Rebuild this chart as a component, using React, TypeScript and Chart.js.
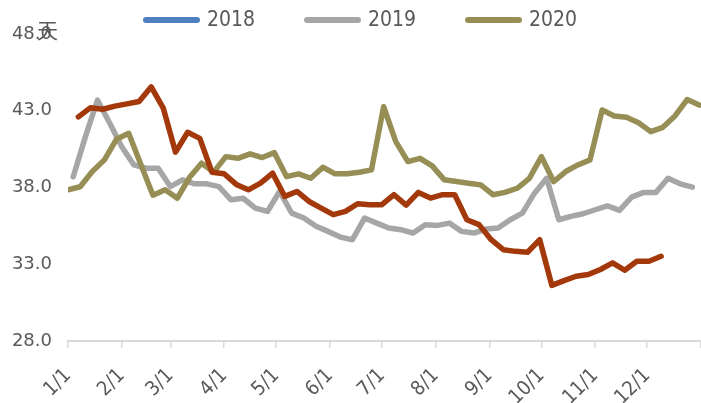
import React, { useEffect, useRef } from "react";
import { Chart, registerables } from "chart.js";

Chart.register(...registerables);

// x axis: day of year, ticks at the first day of each month
const MONTH_START_DAYS = [0, 31, 59, 90, 120, 151, 181, 212, 243, 273, 304, 334, 365];
const MONTH_LABELS = ["1/1", "2/1", "3/1", "4/1", "5/1", "6/1", "7/1", "8/1", "9/1", "10/1", "11/1", "12/1", ""];
const Y_TICKS = [28, 33, 38, 43, 48];
const UNIT_LABEL = "天";
const LEGEND_LABELS = ["2018", "2019", "2020"];

// 2018: no visible data
const DAYS_2018: number[] = [];
const VALUES_2018: number[] = [];

const DAYS_2019 = [3, 10, 17, 24, 31, 38, 45, 52, 59, 66, 73, 80, 87, 94, 101, 108, 115, 122, 129, 136, 143, 150, 157, 164, 171, 178, 185, 192, 199, 206, 213, 220, 227, 234, 241, 248, 255, 262, 269, 276, 283, 290, 297, 304, 311, 318, 325, 332, 339, 346, 353, 360];
const VALUES_2019 = [38.7, 41.3, 43.7, 42.2, 40.66, 39.47, 39.26, 39.26, 38.06, 38.5, 38.24, 38.24, 38.06, 37.2, 37.3, 36.66, 36.44, 37.74, 36.33, 36.01, 35.47, 35.14, 34.77, 34.6, 36.01, 35.68, 35.36, 35.25, 35.03, 35.58, 35.53, 35.68, 35.14, 35.03, 35.29, 35.36, 35.9, 36.33, 37.63, 38.6, 35.9, 36.12, 36.29, 36.55, 36.81, 36.51, 37.37, 37.68, 37.68, 38.6, 38.24, 38.02];

const DAYS_2020 = [0, 7, 14, 21, 28, 35, 42, 49, 56, 63, 70, 77, 84, 91, 98, 105, 112, 119, 126, 133, 140, 147, 154, 161, 168, 175, 182, 189, 196, 203, 210, 217, 224, 231, 238, 245, 252, 259, 266, 273, 280, 287, 294, 301, 308, 315, 322, 329, 336, 343, 350, 357, 364];
const VALUES_2020 = [37.85, 38.05, 39.04, 39.8, 41.15, 41.53, 39.5, 37.5, 37.85, 37.3, 38.65, 39.58, 39.0, 40.01, 39.9, 40.19, 39.95, 40.27, 38.71, 38.89, 38.6, 39.32, 38.89, 38.89, 38.99, 39.15, 43.26, 40.99, 39.69, 39.9, 39.41, 38.5, 38.39, 38.28, 38.17, 37.53, 37.68, 37.95, 38.6, 40.01, 38.39, 39.04, 39.47, 39.8, 43.05, 42.66, 42.57, 42.22, 41.64, 41.92, 42.66, 43.73, 43.37];

const DAYS_2021 = [6, 13, 20, 27, 34, 41, 48, 55, 62, 69, 76, 83, 90, 97, 104, 111, 118, 125, 132, 139, 146, 153, 160, 167, 174, 181, 188, 195, 202, 209, 216, 223, 230, 237, 244, 251, 258, 265, 272, 279, 286, 293, 300, 307, 314, 321, 328, 335, 342];
const VALUES_2021 = [42.6, 43.2, 43.1, 43.3, 43.45, 43.6, 44.56, 43.15, 40.3, 41.6, 41.2, 39.0, 38.9, 38.2, 37.85, 38.28, 38.93, 37.42, 37.74, 37.09, 36.66, 36.23, 36.44, 36.94, 36.88, 36.88, 37.53, 36.85, 37.68, 37.31, 37.53, 37.53, 35.9, 35.58, 34.6, 33.95, 33.84, 33.78, 34.6, 31.62, 31.93, 32.22, 32.33, 32.66, 33.09, 32.61, 33.19, 33.19, 33.52];

const COLOR_2018 = "#4F7FBE";
const COLOR_2019 = "#A6A6A6";
const COLOR_2020 = "#978E56";
const COLOR_2021 = "#A3380B";
const TEXT_COLOR = "#595959";
const NARROW_FONT = '"Liberation Sans Narrow", "DejaVu Sans Condensed", sans-serif';

const toPoints = (days: number[], vals: number[]) => days.map((d, i) => ({ x: d, y: vals[i] }));

const legendPlugin = {
  id: "customLegend",
  afterDraw(chart: any) {
    const ctx = chart.ctx as CanvasRenderingContext2D;
    ctx.save();
    ctx.font = `21px ${NARROW_FONT}`;
    ctx.textBaseline = "middle";
    ctx.textAlign = "left";
    let x = 143;
    const y = 20;
    chart.data.datasets.forEach((ds: any) => {
      if (!LEGEND_LABELS.includes(ds.label)) return;
      ctx.strokeStyle = ds.borderColor;
      ctx.lineWidth = 6;
      ctx.lineCap = "round";
      ctx.beginPath();
      ctx.moveTo(x + 3, y);
      ctx.lineTo(x + 54, y);
      ctx.stroke();
      ctx.fillStyle = TEXT_COLOR;
      ctx.fillText(ds.label, x + 64, y + 1);
      x += 161;
    });
    // unit label
    ctx.font = '21px "Noto Sans CJK SC", sans-serif';
    ctx.fillStyle = TEXT_COLOR;
    ctx.fillText(UNIT_LABEL, 37, 30);
    ctx.restore();
  },
};

export default function App() {
  const ref = useRef<HTMLCanvasElement | null>(null);
  useEffect(() => {
    if (!ref.current) return;
    const common = {
      pointRadius: 0,
      borderWidth: 5.5,
      tension: 0,
      borderJoinStyle: "round" as const,
      borderCapStyle: "round" as const,
      fill: false,
    };
    const chart = new Chart(ref.current, {
      type: "line",
      data: {
        datasets: [
          { label: "2018", data: toPoints(DAYS_2018, VALUES_2018), borderColor: COLOR_2018, backgroundColor: COLOR_2018, order: 3, ...common },
          { label: "2019", data: toPoints(DAYS_2019, VALUES_2019), borderColor: COLOR_2019, backgroundColor: COLOR_2019, order: 2, ...common },
          { label: "2020", data: toPoints(DAYS_2020, VALUES_2020), borderColor: COLOR_2020, backgroundColor: COLOR_2020, order: 1, ...common },
          { label: "2021", data: toPoints(DAYS_2021, VALUES_2021), borderColor: COLOR_2021, backgroundColor: COLOR_2021, order: 0, ...common },
        ],
      },
      options: {
        responsive: false,
        animation: false,
        devicePixelRatio: 1,
        layout: { padding: { top: 34, left: 0, right: 0, bottom: 0 } },
        plugins: {
          legend: { display: false },
          tooltip: { enabled: false },
        },
        scales: {
          x: {
            type: "linear",
            min: 0,
            max: 365,
            afterBuildTicks: (scale: any) => {
              scale.ticks = MONTH_START_DAYS.map((d) => ({ value: d }));
            },
            afterFit: (scale: any) => {
              scale.height = 62;
              scale.paddingLeft = 0;
              scale.paddingRight = 0;
            },
            ticks: {
              autoSkip: false,
              minRotation: 45,
              maxRotation: 45,
              padding: 16,
              color: TEXT_COLOR,
              font: { family: NARROW_FONT, size: 20 },
              callback: (value: any) => {
                const i = MONTH_START_DAYS.indexOf(Number(value));
                return i >= 0 ? MONTH_LABELS[i] : "";
              },
            },
            grid: {
              drawOnChartArea: false,
              drawTicks: true,
              tickLength: 7,
              color: "#D9D9D9",
              lineWidth: 1.5,
            },
            border: { display: true, color: "#D9D9D9", width: 2 },
          },
          y: {
            min: 28,
            max: 48,
            afterBuildTicks: (scale: any) => {
              scale.ticks = Y_TICKS.map((v) => ({ value: v }));
            },
            afterFit: (scale: any) => {
              scale.width = 68;
              scale.paddingTop = 0;
              scale.paddingBottom = 0;
            },
            ticks: {
              padding: 16,
              color: TEXT_COLOR,
              font: { family: '"DejaVu Sans", sans-serif', size: 18 },
              callback: (value: any) => Number(value).toFixed(1),
            },
            grid: { display: false, drawTicks: false },
            border: { display: false },
          },
        },
      },
      plugins: [legendPlugin],
    });
    return () => chart.destroy();
  }, []);
  return (
    <div style={{ position: "absolute", left: 0, top: 0, width: 701, height: 403, background: "#fff" }}>
      <canvas ref={ref} width={701} height={403} style={{ display: "block" }} />
    </div>
  );
}
